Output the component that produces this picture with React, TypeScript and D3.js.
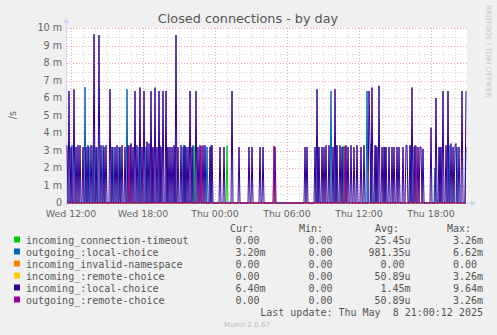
import React from "react";
import * as d3 from "d3";

// ---- data (values in milli-units per second; spikes: [sample index, value]) ----
const END_TIME = Date.UTC(2025, 4, 8, 21, 0, 0);
const STEP_MS = 300000;
const N_SAMPLES = 400;

const seriesNames = [
  "incoming_connection-timeout",
  "outgoing_:local-choice",
  "incoming_invalid-namespace",
  "incoming_:remote-choice",
  "incoming_:local-choice",
  "outgoing_:remote-choice",
];
const seriesColors = ["#00CC00", "#0066B3", "#FF8000", "#FFCC00", "#330099", "#990099"];

const connTimeoutSpikes: [number, number][] = [[127, 3.26], [160, 3.26], [276, 3.26]];
const outLocalSpikes: [number, number][] = [
  [5, 3.3], [18, 6.62], [22, 3.2], [26, 3.3], [30, 3.2], [36, 3.3], [46, 3.2], [52, 3.2], [60, 6.5], [63, 3.3],
  [72, 3.2], [79, 3.2], [85, 3.2], [93, 3.3], [100, 3.2], [108, 3.2], [116, 3.2], [118, 3.3], [126, 3.3],
  [140, 3.2], [144, 3.3], [251, 3.2], [264, 6.4], [269, 3.3], [277, 3.2], [300, 6.4], [304, 3.4], [309, 3.3],
  [318, 3.2], [344, 3.3], [347, 3.2], [368, 2.0], [373, 3.2], [382, 3.3], [390, 3.2], [399, 3.2],
];
const invalidNsSpikes: [number, number][] = [];
const inRemoteSpikes: [number, number][] = [[62, 3.26], [134, 3.26], [207, 3.26], [278, 3.26], [349, 3.26]];
const inLocalSpikes: [number, number][] = [
  [0, 3.3], [2, 6.4], [4, 3.2], [7, 6.5], [9, 3.2], [11, 3.3], [13, 3.3], [16, 3.2], [19, 3.2], [21, 3.3],
  [24, 3.3], [27, 9.64], [29, 3.2], [32, 9.6], [34, 3.3], [37, 3.2], [39, 3.3], [43, 6.5], [45, 3.2], [48, 3.2],
  [50, 3.3], [53, 3.2], [55, 3.3], [58, 3.2], [61, 3.3], [64, 3.4], [66, 3.2], [68, 6.4], [70, 3.3], [73, 6.6],
  [75, 3.2], [77, 6.4], [80, 3.5], [82, 3.4], [84, 6.4], [86, 3.2], [88, 6.6], [90, 3.2], [92, 6.4], [94, 3.2],
  [96, 6.4], [99, 6.4], [101, 3.2], [103, 3.2], [105, 3.2], [107, 3.3], [109, 9.6], [111, 3.2], [114, 3.3],
  [117, 3.3], [119, 3.2], [121, 3.2], [123, 6.4], [125, 3.2], [129, 6.4], [131, 3.2], [133, 3.3],
  [136, 3.3], [138, 3.3], [143, 3.2], [145, 3.3], [153, 3.2], [157, 3.2], [165, 6.4], [172, 3.2], [182, 3.2],
  [185, 3.2], [193, 3.2], [196, 3.2], [208, 3.2],
  [238, 3.2], [240, 3.2], [248, 3.2], [250, 6.5], [252, 3.2], [255, 3.2], [257, 3.2], [259, 3.3], [262, 3.3],
  [266, 3.2], [268, 6.5], [270, 3.3], [273, 3.3], [275, 3.2], [279, 3.3], [281, 3.2], [284, 3.3], [287, 3.2],
  [290, 3.3], [294, 3.2], [297, 3.3], [302, 6.4], [303, 3.4], [305, 6.6], [308, 3.3], [310, 3.2], [312, 6.7],
  [315, 3.2], [317, 3.2], [319, 3.2], [322, 3.2], [325, 3.2], [327, 3.2], [330, 3.2], [332, 3.2], [336, 3.2],
  [339, 3.3], [340, 3.3], [343, 3.3], [345, 6.6], [348, 3.3], [351, 3.2], [353, 3.2], [354, 3.2], [356, 3.1],
  [364, 4.3], [369, 6.0], [372, 3.2], [374, 3.2], [376, 6.4], [379, 3.3], [381, 6.4], [384, 3.4], [386, 3.2],
  [388, 3.3], [389, 3.4], [392, 3.2], [395, 6.4], [399, 6.4],
];
const outRemoteSpikes: [number, number][] = [[62, 3.26], [134, 3.26], [207, 3.26], [278, 3.26], [349, 3.26]];

const seriesSpikes = [connTimeoutSpikes, outLocalSpikes, invalidNsSpikes, inRemoteSpikes, inLocalSpikes, outRemoteSpikes];

const legendCur = [["0.00", ""], ["3.20", "m"], ["0.00", ""], ["0.00", ""], ["6.40", "m"], ["0.00", ""]];
const legendMin = [["0.00", ""], ["0.00", ""], ["0.00", ""], ["0.00", ""], ["0.00", ""], ["0.00", ""]];
const legendAvg = [["25.45", "u"], ["981.35", "u"], ["0.00", ""], ["50.89", "u"], ["1.45", "m"], ["50.89", "u"]];
const legendMax = [["3.26", "m"], ["6.62", "m"], ["0.00", ""], ["3.26", "m"], ["9.64", "m"], ["3.26", "m"]];

const yTicks = [0, 1, 2, 3, 4, 5, 6, 7, 8, 9, 10];
const yTickLabels = ["0", "1 m", "2 m", "3 m", "4 m", "5 m", "6 m", "7 m", "8 m", "9 m", "10 m"];

// ---- layout ----
const W = 497, H = 335;
const PL = 67, PR = 467, PT = 28, PB = 203;

export default function App() {
  const start = END_TIME - N_SAMPLES * STEP_MS;
  const x = d3.scaleUtc().domain([new Date(start), new Date(END_TIME)]).range([PL, PR]);
  const y = d3.scaleLinear().domain([0, 10]).range([PB, PT]);

  const series = seriesSpikes.map((sp) => {
    const vals = new Array(N_SAMPLES).fill(0);
    sp.forEach(([i, v]) => (vals[i] = v));
    return vals;
  });
  const line = d3
    .line<number>()
    .x((_, i) => x(new Date(start + i * STEP_MS)))
    .y((v) => y(v));

  const hourTicks = d3.utcHour.every(1)!.range(new Date(start), new Date(END_TIME));
  const majorTicks = hourTicks.filter((t) => t.getUTCHours() % 6 === 0);
  const fmt = d3.utcFormat("%a %H:%M");
  const minorY = d3.range(0.5, 10, 1);

  const mono = "'DejaVu Sans Mono', monospace";
  const sans = "'DejaVu Sans', sans-serif";
  const rowY = (k: number) => 243.5 + k * 12;

  return (
    <svg width={W} height={H} style={{ position: "absolute", left: 0, top: 0, display: "block" }}>
      <rect x={0} y={0} width={W} height={H} fill="#F0F0F0" />
      <rect x={PL} y={PT} width={PR - PL} height={PB - PT} fill="#FFFFFF" />
      {/* minor grid */}
      <g stroke="#D6D6D6" strokeWidth={1} strokeDasharray="1,2" shapeRendering="crispEdges">
        {hourTicks.map((t, i) => (
          <line key={"mx" + i} x1={Math.round(x(t)) + 0.5} x2={Math.round(x(t)) + 0.5} y1={PT} y2={PB} />
        ))}
        {minorY.map((v, i) => (
          <line key={"my" + i} x1={PL} x2={PR} y1={Math.round(y(v)) + 0.5} y2={Math.round(y(v)) + 0.5} />
        ))}
      </g>
      {/* major grid */}
      <g stroke="#EBA8A8" strokeWidth={1} strokeDasharray="1,2" shapeRendering="crispEdges">
        {majorTicks.map((t, i) => (
          <line key={"Mx" + i} x1={Math.round(x(t)) + 0.5} x2={Math.round(x(t)) + 0.5} y1={PT} y2={PB} />
        ))}
        {yTicks.slice(1).map((v, i) => (
          <line key={"My" + i} x1={PL} x2={PR} y1={Math.round(y(v)) + 0.5} y2={Math.round(y(v)) + 0.5} />
        ))}
      </g>
      {/* axes */}
      <g stroke="#CFD6F8" strokeWidth={1}>
        <line x1={PL - 0.5} x2={PL - 0.5} y1={PB + 3} y2={PT - 6} />
        <line x1={PL - 3} x2={PR + 6} y1={PB + 0.5} y2={PB + 0.5} />
      </g>
      <path d={`M${PL - 3.5},${PT - 5} L${PL - 0.5},${PT - 10} L${PL + 2.5},${PT - 5} Z`} fill="#CFD6F8" />
      <path d={`M${PR + 4},${PB - 2.5} L${PR + 9},${PB + 0.5} L${PR + 4},${PB + 3.5} Z`} fill="#CFD6F8" />
      {/* series */}
      <g fill="none" strokeWidth={1}>
        {series.map((vals, k) => (
          <path key={k} d={line(vals) || ""} stroke={seriesColors[k]} />
        ))}
      </g>
      {/* y labels */}
      <g fontFamily={sans} fontSize={9.6} fill="#666" textAnchor="end">
        {yTicks.map((v, i) => (
          <text key={i} x={62} y={y(v) + 3.4}>
            {yTickLabels[i]}
          </text>
        ))}
      </g>
      {/* x labels */}
      <g fontFamily={sans} fontSize={9.4} fill="#666" textAnchor="middle">
        {majorTicks.map((t, i) => (
          <text key={i} x={x(t)} y={216.5}>
            {fmt(t)}
          </text>
        ))}
      </g>
      <text x={16} y={115} fontFamily={sans} fontSize={9.6} fill="#666" textAnchor="middle" transform="rotate(-90 16 115)">
        /s
      </text>
      <text x={248} y={23} fontFamily={sans} fontSize={12.8} fill="#555" textAnchor="middle">
        Closed connections - by day
      </text>
      <text x={486} y={5} fontFamily={sans} fontSize={7.2} fill="#C8C8C8" transform="rotate(90 486 5)">
        RRDTOOL / TOBI OETIKER
      </text>
      {/* legend */}
      <g fontFamily={mono} fontSize={10} fill="#555">
        <text x={230} y={231.5}>Cur:</text>
        <text x={299} y={231.5}>Min:</text>
        <text x={375} y={231.5}>Avg:</text>
        <text x={447} y={231.5}>Max:</text>
        {seriesNames.map((name, k) => (
          <g key={k}>
            <rect x={14.5} y={rowY(k) - 6.5} width={5} height={5} fill={seriesColors[k]} stroke={seriesColors[k]} strokeWidth={1} />
            <text x={26} y={rowY(k)}>{name}</text>
            {[legendCur, legendMin, legendAvg, legendMax].map((col, c) => {
              const endX = [259.5, 332.5, 404.5, 477][c];
              return (
                <g key={c}>
                  <text x={endX} y={rowY(k)} textAnchor="end">{col[k][0]}</text>
                  {col[k][1] && <text x={endX} y={rowY(k)}>{col[k][1]}</text>}
                </g>
              );
            })}
          </g>
        ))}
        <text x={483} y={315.5} textAnchor="end" style={{ whiteSpace: "pre" }}>
          {"Last update: Thu May  8 21:00:12 2025"}
        </text>
      </g>
      <text x={247} y={327} fontFamily={sans} fontSize={7} fill="#BBBBBB" textAnchor="middle">
        Munin 2.0.67
      </text>
    </svg>
  );
}
